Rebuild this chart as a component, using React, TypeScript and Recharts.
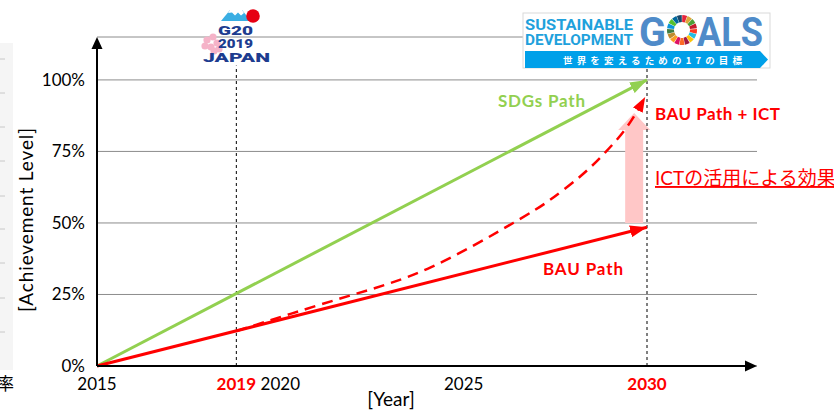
import React from 'react';
import { LineChart, Line, XAxis, YAxis, CartesianGrid, ReferenceLine } from 'recharts';

const FONT = "Lato, 'Noto Sans CJK JP', sans-serif";
const RED = '#ff0000';
const GREEN = '#92d050';
const PINK = '#ffc7c7';

// axes
const X_DOMAIN = [2015, 2033];
const Y_DOMAIN = [0, 115];
const G20_YEAR = 2018.8; // the source draws its "2019" marker here
const TARGET_YEAR = 2030;
const YEAR_TICKS = [2015, G20_YEAR, 2020, 2025, 2030];
const YEAR_LABELS = ['2015', '2019', '2020', '2025', '2030'];
const HIGHLIGHT_LABELS = ['2019', '2030'];
const PCT_TICKS = [0, 25, 50, 75, 100];

// series
const sdgsPath = [
  { year: 2015, value: 0 },
  { year: 2030, value: 100 },
];
const bauPath = [
  { year: 2015, value: 0 },
  { year: 2030, value: 48.5 },
];
const ictPath = [
  { year: 2018.8, value: 12.2 },
  { year: 2020.3, value: 18.3 },
  { year: 2022, value: 25 },
  { year: 2024.1, value: 34.5 },
  { year: 2026.35, value: 50 },
  { year: 2027.35, value: 58 },
  { year: 2028.2, value: 66.5 },
  { year: 2028.85, value: 74.5 },
  { year: 2029.45, value: 83.5 },
  { year: 2029.95, value: 94 },
];
const ictEffect = { year: 2029.65, from: 50, to: 88.4 };

const SDG_COLORS = [
  '#e5243b', '#dda63a', '#4c9f38', '#c5192d', '#ff3a21', '#26bde2', '#fcc30b', '#a21942', '#fd6925',
  '#dd1367', '#fd9d24', '#bf8b2e', '#3f7e44', '#0a97d9', '#56c02b', '#00689d', '#19486a',
];

// line with a triangle head at (x2, y2)
function ArrowLine(props: any) {
  const { x1, y1, x2, y2, color = '#000', width = 2, headLen = 12, headW = 11 } = props;
  const ang = Math.atan2(y2 - y1, x2 - x1);
  const bx = x2 - headLen * Math.cos(ang);
  const by = y2 - headLen * Math.sin(ang);
  const px = (headW / 2) * Math.sin(ang);
  const py = (headW / 2) * Math.cos(ang);
  return (
    <g>
      <line x1={x1} y1={y1} x2={bx} y2={by} stroke={color} strokeWidth={width} />
      <polygon points={`${x2},${y2} ${bx + px},${by - py} ${bx - px},${by + py}`} fill={color} />
    </g>
  );
}

// fat block arrow pointing up
function BlockArrow(props: any) {
  const { x1, y1, y2 } = props;
  const top = Math.min(y1, y2);
  const bottom = Math.max(y1, y2);
  const bw = 9, hw = 16, hl = 17;
  const pts = [
    [x1 - bw, bottom], [x1 - bw, top + hl], [x1 - hw, top + hl], [x1, top],
    [x1 + hw, top + hl], [x1 + bw, top + hl], [x1 + bw, bottom],
  ].map((p) => p.join(',')).join(' ');
  return <polygon points={pts} fill={PINK} />;
}

function YearTick(props: any) {
  const { x, y, payload } = props;
  const label = YEAR_LABELS[YEAR_TICKS.indexOf(payload.value)];
  const hot = HIGHLIGHT_LABELS.includes(label);
  return (
    <text x={x} y={y} dy={22} textAnchor="middle" fontSize={17} fontFamily={FONT}
      fill={hot ? RED : '#000'} fontWeight={hot ? 700 : 400}>
      {label}
    </text>
  );
}

function PctTick(props: any) {
  const { x, y, payload } = props;
  return (
    <text x={x} y={y} dy={6} textAnchor="end" fontSize={17} fontFamily={FONT} fill="#000">
      {payload.value}%
    </text>
  );
}

function Marker({ id, color, len, w }: { id: string; color: string; len: number; w: number }) {
  return (
    <marker id={id} markerUnits="userSpaceOnUse" markerWidth={len} markerHeight={w}
      viewBox={`0 0 ${len} ${w}`} refX={len} refY={w / 2} orient="auto">
      <path d={`M0,0 L${len},${w / 2} L0,${w} z`} fill={color} />
    </marker>
  );
}

function G20Logo() {
  const petals = [[207, 40], [213, 37], [217, 43], [211, 47], [205, 46], [214, 51], [219, 49]];
  return (
    <g fontFamily="Roboto, sans-serif" fontWeight={900} fill="#1d3c8f">
      {petals.map(([cx, cy], i) => <circle key={i} cx={cx} cy={cy} r={3.6} fill="#f5b3c8" />)}
      <polygon points="221,21 230,10 242,10 251,21" fill="#3aaee3" />
      <polygon points="228,13 230,10 242,10 244,13 241,15.5 238,12.5 235,15.5 232,12.5" fill="#fff" />
      <circle cx={253} cy={16} r={6.8} fill="#e60012" />
      <text x={218} y={35} fontSize={12} textLength={35} lengthAdjust="spacingAndGlyphs">G20</text>
      <text x={218} y={48} fontSize={12} textLength={35} lengthAdjust="spacingAndGlyphs">2019</text>
      <text x={203} y={62} fontSize={13.5} textLength={67} lengthAdjust="spacingAndGlyphs">JAPAN</text>
    </g>
  );
}

function SdgLogo() {
  const cx = 682, cy = 30, r1 = 8, r2 = 15;
  const n = SDG_COLORS.length;
  const seg = (i: number) => {
    const a0 = ((i / n) * 360 - 90 + 1) * (Math.PI / 180);
    const a1 = (((i + 1) / n) * 360 - 90 - 1) * (Math.PI / 180);
    const p = (r: number, a: number) => `${cx + r * Math.cos(a)},${cy + r * Math.sin(a)}`;
    return `M${p(r1, a0)} L${p(r2, a0)} A${r2},${r2} 0 0 1 ${p(r2, a1)} L${p(r1, a1)} A${r1},${r1} 0 0 0 ${p(r1, a0)} z`;
  };
  return (
    <g fontFamily="Roboto, sans-serif">
      <rect x={523} y={13} width={247} height={55} fill="#fff" stroke="#d9d9d9" />
      <text x={525} y={30} fontSize={14} fontWeight={700} fill="#1fa1dc" textLength={108} lengthAdjust="spacingAndGlyphs">SUSTAINABLE</text>
      <text x={525} y={45} fontSize={14} fontWeight={700} fill="#1fa1dc" textLength={108} lengthAdjust="spacingAndGlyphs">DEVELOPMENT</text>
      <text x={639} y={46} fontSize={40} fontWeight={700} fill="#4f8bc9" textLength={27} lengthAdjust="spacingAndGlyphs">G</text>
      {SDG_COLORS.map((c, i) => <path key={i} d={seg(i)} fill={c} />)}
      <text x={697} y={46} fontSize={40} fontWeight={700} fill="#4f8bc9" textLength={66} lengthAdjust="spacingAndGlyphs">ALS</text>
      <polygon points="525,51 760,51 768,59.5 760,68 525,68" fill="#00a0e9" />
      <text x={563} y={63.5} fontSize={9.5} fontWeight={700} fill="#fff" fontFamily="'Noto Sans CJK JP', sans-serif"
        textLength={179}>世界を変えるための17の目標</text>
    </g>
  );
}

function Overlay() {
  const ticks = [59, 93, 127, 161, 196, 229, 263, 298, 332];
  return (
    <svg width={834} height={412} style={{ position: 'absolute', left: 0, top: 0, pointerEvents: 'none' }}>
      <rect x={0} y={43} width={13} height={327} fill="#f5f5f5" />
      {ticks.map((t) => <line key={t} x1={0} x2={5} y1={t} y2={t} stroke="#c8c8c8" />)}
      <text x={-3} y={390} fontSize={17} fontFamily={FONT} fill="#000">率</text>
      <G20Logo />
      <SdgLogo />
      <g fontFamily={FONT} fontSize={19} fill="#000">
        <text transform="translate(27,220) rotate(-90)" textAnchor="middle" dy={6} textLength={184}>[Achievement Level]</text>
        <text x={391} y={406} textAnchor="middle">[Year]</text>
      </g>
      <g fontFamily={FONT} fontWeight={700} fontSize={17}>
        <text x={498} y={107} fill={GREEN} textLength={87}>SDGs Path</text>
        <text x={655} y={120} fill={RED} textLength={125}>BAU Path + ICT</text>
        <text x={543} y={275} fill={RED} textLength={80}>BAU Path</text>
      </g>
      <text x={655} y={185} fontFamily={FONT} fontSize={19} fill={RED} textDecoration="underline">ICTの活用による効果</text>
    </svg>
  );
}

export default function App() {
  return (
    <div style={{ position: 'absolute', left: 0, top: 0, width: 834, height: 412, background: '#fff', fontFamily: FONT }}>
      <LineChart width={834} height={412} margin={{ top: 37, right: 77, left: 47, bottom: 16 }}>
        <defs>
          <Marker id="headGreen" color={GREEN} len={17} w={12} />
          <Marker id="headRed" color={RED} len={17} w={12} />
          <Marker id="headRedDash" color={RED} len={15} w={11} />
        </defs>
        <CartesianGrid vertical={false} stroke="#8c8c8c" strokeWidth={1} />
        <XAxis type="number" dataKey="year" domain={X_DOMAIN} ticks={YEAR_TICKS} axisLine={false}
          tickLine={false} tickSize={0} tickMargin={2} height={30} tick={<YearTick />} interval={0} />
        <YAxis type="number" domain={Y_DOMAIN} ticks={PCT_TICKS} axisLine={false} tickLine={false}
          tickSize={0} tickMargin={12} width={50} tick={<PctTick />} interval={0} />
        <ReferenceLine segment={[{ x: ictEffect.year, y: ictEffect.from }, { x: ictEffect.year, y: ictEffect.to }]}
          shape={(p: any) => <BlockArrow {...p} />} />
        <ReferenceLine segment={[{ x: G20_YEAR, y: 0 }, { x: G20_YEAR, y: 105 }]} stroke="#000" strokeDasharray="3 3" />
        <ReferenceLine segment={[{ x: TARGET_YEAR, y: 0 }, { x: TARGET_YEAR, y: 104 }]} stroke="#000" strokeDasharray="3 3" />
        <Line data={sdgsPath} dataKey="value" stroke={GREEN} strokeWidth={3} dot={false}
          isAnimationActive={false} markerEnd="url(#headGreen)" />
        <Line data={bauPath} dataKey="value" stroke={RED} strokeWidth={3} dot={false}
          isAnimationActive={false} markerEnd="url(#headRed)" />
        <Line data={ictPath} dataKey="value" type="natural" stroke={RED} strokeWidth={2.5} strokeDasharray="11 7"
          dot={false} isAnimationActive={false} markerEnd="url(#headRedDash)" />
        <ReferenceLine segment={[{ x: 2015, y: 0 }, { x: 2015, y: 115 }]} shape={(p: any) => <ArrowLine {...p} />} />
        <ReferenceLine segment={[{ x: 2015, y: 0 }, { x: 2033, y: 0 }]} shape={(p: any) => <ArrowLine {...p} />} />
      </LineChart>
      <Overlay />
    </div>
  );
}
